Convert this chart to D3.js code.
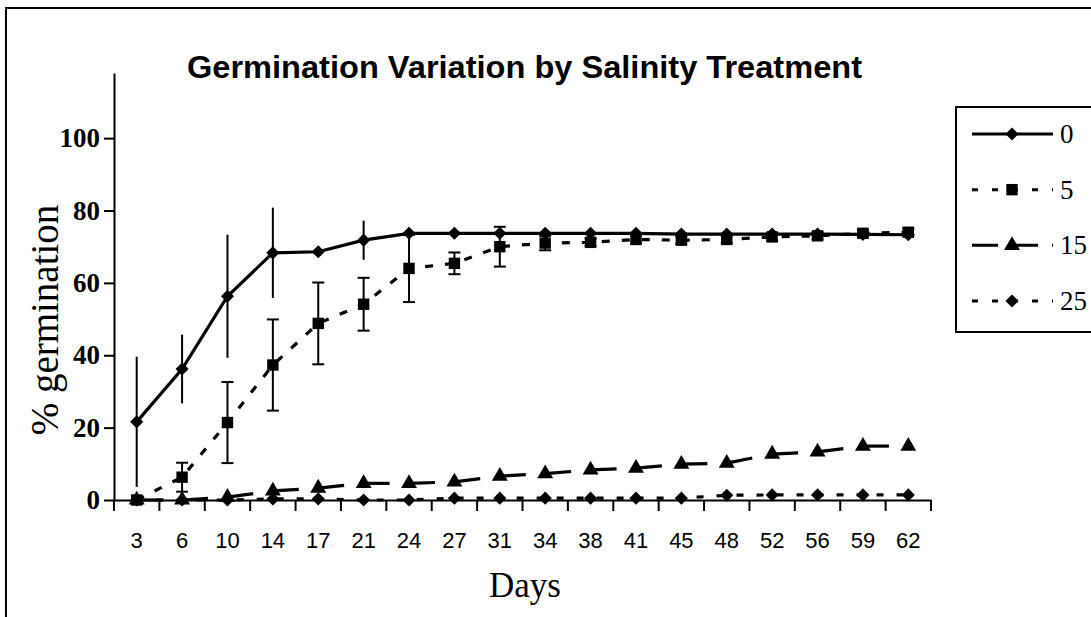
<!DOCTYPE html>
<html><head><meta charset="utf-8">
<script src="https://cdn.jsdelivr.net/npm/d3@7"></script>
<style>
html,body{margin:0;padding:0;background:#fff;}
svg{display:block;}
</style></head>
<body>
<svg id="chart" width="1091" height="617"></svg>
<script>
// ---- data ----
const days = ["3","6","10","14","17","21","24","27","31","34","38","41","45","48","52","56","59","62"];
const salinity0  = [21.6, 36.2, 56.3, 68.3, 68.6, 71.8, 73.7, 73.7, 73.7, 73.7, 73.7, 73.7, 73.5, 73.5, 73.5, 73.5, 73.4, 73.3];
const err0       = [18, 9.5, 17, 12.5, 1.5, 5.4, 1.5, 1, 1, 1, 1, 1, 1, 1, 1, 1, 1, 1];
const salinity5  = [0, 6.3, 21.4, 37.3, 48.8, 54.1, 64, 65.4, 70, 71, 71.2, 72, 71.8, 72, 72.7, 73, 73.7, 74];
const err5       = [0, 4, 11.2, 12.6, 11.3, 7.3, 9.3, 3, 5.5, 2, 1, 1, 1, 1, 1, 1, 1, 1];
const salinity15 = [0, 0, 0.8, 2.5, 3.3, 4.6, 4.6, 5, 6.6, 7.3, 8.3, 8.8, 9.9, 10.2, 12.7, 13.3, 14.9, 14.9];
const salinity25 = [0, 0, 0, 0.3, 0.3, 0, 0, 0.5, 0.5, 0.5, 0.5, 0.5, 0.5, 1.3, 1.4, 1.4, 1.4, 1.4];
const seriesNames = ["0", "5", "15", "25"];
const yTicks = [0, 20, 40, 60, 80, 100];

const svg = d3.select("#chart");

// outer frame
svg.append("path").attr("d","M6,617V8H1091").attr("fill","none").attr("stroke","#000").attr("stroke-width",2);

const x = d3.scaleBand().domain(days).range([114, 931]).padding(0);
const y = d3.scaleLinear().domain([0, 118]).range([500, 73]);
const cx = d => x(d) + x.bandwidth()/2;

// title
svg.append("text").attr("x", 187).attr("y", 78)
  .attr("font-family","'Liberation Sans', Arial, sans-serif").attr("font-weight","bold")
  .attr("font-size", 31).attr("textLength", 675).attr("lengthAdjust","spacingAndGlyphs")
  .text("Germination Variation by Salinity Treatment");

// y axis
const yAxis = svg.append("g").attr("transform","translate(114,0)")
  .call(d3.axisLeft(y).tickValues(yTicks).tickSize(10).tickSizeOuter(0).tickPadding(4));
yAxis.select(".domain").attr("stroke-width",2);
yAxis.selectAll(".tick line").attr("stroke-width",2);
yAxis.selectAll("text").attr("font-family","'Liberation Serif', 'Times New Roman', serif")
  .attr("font-weight","bold").attr("font-size",27).attr("fill","#000");

// x axis
const xAxis = svg.append("g").attr("transform","translate(0,500)")
  .call(d3.axisBottom(x).tickSize(0).tickSizeOuter(0).tickPadding(32));
xAxis.select(".domain").attr("stroke-width",2);
xAxis.selectAll("text").attr("font-family","'Liberation Sans', Arial, sans-serif")
  .attr("font-size",22).attr("fill","#000");
// boundary ticks
const bounds = days.map(d => x(d)).concat([x(days[days.length-1]) + x.bandwidth()]);
svg.append("g").selectAll("line").data(bounds).join("line")
  .attr("x1", d=>d).attr("x2", d=>d).attr("y1", 500).attr("y2", 511)
  .attr("stroke","#000").attr("stroke-width",2);

// axis titles
svg.append("text").attr("transform","translate(58,320) rotate(-90)").attr("text-anchor","middle")
  .attr("font-family","'Liberation Serif', 'Times New Roman', serif").attr("font-size",39)
  .text("% germination");
svg.append("text").attr("x", 525).attr("y", 597).attr("text-anchor","middle")
  .attr("font-family","'Liberation Serif', 'Times New Roman', serif").attr("font-size",35)
  .text("Days");

const plot = svg.append("g");

// error bars
function errorBars(vals, errs, cap) {
  const g = plot.append("g").attr("stroke","#000").attr("stroke-width",2);
  days.forEach((d,i) => {
    if (!errs[i]) return;
    const lo = Math.max(0, vals[i]-errs[i]), hi = vals[i]+errs[i];
    g.append("line").attr("x1",cx(d)).attr("x2",cx(d)).attr("y1",y(lo)).attr("y2",y(hi));
    if (cap) {
      g.append("line").attr("x1",cx(d)-6).attr("x2",cx(d)+6).attr("y1",y(lo)).attr("y2",y(lo));
      g.append("line").attr("x1",cx(d)-6).attr("x2",cx(d)+6).attr("y1",y(hi)).attr("y2",y(hi));
    }
  });
}
errorBars(salinity0, err0, false);
errorBars(salinity5, err5, true);

const line = d3.line().x((v,i)=>cx(days[i])).y(v=>y(v));

// series lines
plot.append("path").datum(salinity0).attr("d", line).attr("fill","none").attr("stroke","#000").attr("stroke-width",3.2);
plot.append("path").datum(salinity5).attr("d", line).attr("fill","none").attr("stroke","#000").attr("stroke-width",3.2).attr("stroke-dasharray","8,12");
// 15: long dash restarting at each point
salinity15.forEach((v,i) => {
  if (i === salinity15.length-1) return;
  plot.append("path").datum([v, salinity15[i+1]])
    .attr("d", d3.line().x((vv,j)=>cx(days[i+j])).y(vv=>y(vv)))
    .attr("fill","none").attr("stroke","#000").attr("stroke-width",3.2).attr("stroke-dasharray","26,100");
});
plot.append("path").datum(salinity25).attr("d", line).attr("fill","none").attr("stroke","#000").attr("stroke-width",3.2).attr("stroke-dasharray","7,13");

// markers
const sym = {
  diamond: d3.symbol().type(d3.symbolDiamond2).size(110),
  square: d3.symbol().type(d3.symbolSquare).size(130),
  triangle: d3.symbol().type(d3.symbolTriangle).size(110)
};
function markers(vals, s) {
  plot.append("g").selectAll("path").data(vals).join("path")
    .attr("transform",(v,i)=>`translate(${cx(days[i])},${y(v)})`)
    .attr("d", s).attr("fill","#000");
}
markers(salinity25, sym.diamond);
markers(salinity15, sym.triangle);
markers(salinity5, sym.square);
markers(salinity0, sym.diamond);

// legend
const lg = svg.append("g");
lg.append("rect").attr("x",956).attr("y",107).attr("width",200).attr("height",225)
  .attr("fill","#fff").attr("stroke","#000").attr("stroke-width",2);
const legendY = d3.scalePoint().domain(seriesNames).range([134, 301]);
const legendStyle = {
  "0":  {dash:null, s:sym.diamond},
  "5":  {dash:"6,14", s:sym.square},
  "15": {dash:"26,14", s:sym.triangle},
  "25": {dash:"6,14", s:sym.diamond}
};
seriesNames.forEach(n => {
  const yy = legendY(n), st = legendStyle[n];
  const p = lg.append("line").attr("x1",972).attr("x2",1053).attr("y1",yy).attr("y2",yy)
    .attr("stroke","#000").attr("stroke-width",3);
  if (st.dash) p.attr("stroke-dasharray", st.dash);
  lg.append("path").attr("transform",`translate(1012,${yy})`).attr("d", st.s).attr("fill","#000");
  lg.append("text").attr("x",1060).attr("y",yy+9)
    .attr("font-family","'Liberation Serif', 'Times New Roman', serif").attr("font-size",27)
    .text(n);
});
</script>
</body></html>
